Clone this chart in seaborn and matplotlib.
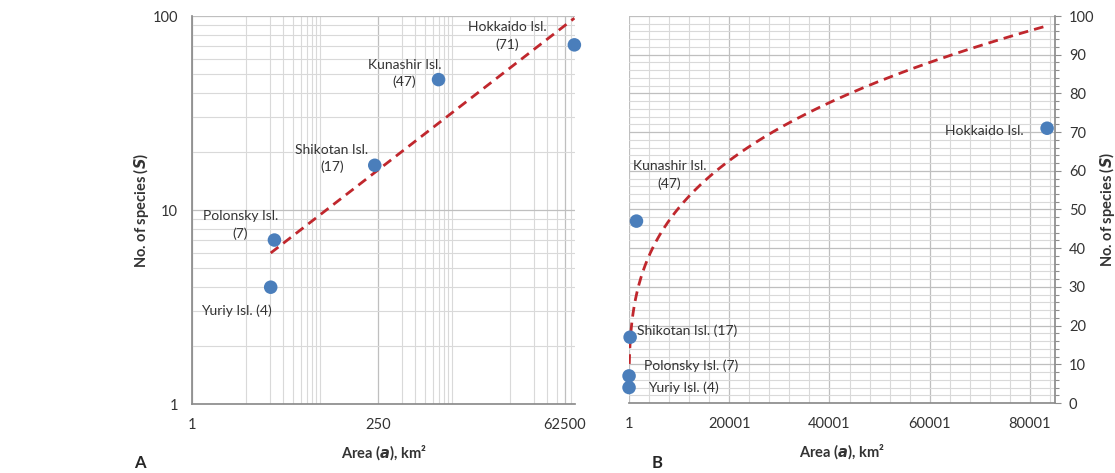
import numpy as np
import pandas as pd
import matplotlib
matplotlib.use("Agg")
import matplotlib.pyplot as plt
import matplotlib.ticker as mticker
import seaborn as sns

# data
islands = ["Yuriy Isl.", "Polonsky Isl.", "Shikotan Isl.", "Kunashir Isl.", "Hokkaido Isl."]
area_km2 = [10.3, 11.5, 225, 1490, 83424]
species = [4, 7, 17, 47, 71]

sns.set_theme(style="whitegrid")
plt.rcParams.update({
    "font.family": ["Lato", "DejaVu Sans"],
    "font.size": 10,
    "axes.edgecolor": "#8c8c8c",
    "xtick.color": "#8c8c8c",
    "ytick.color": "#8c8c8c",
    "xtick.labelcolor": "#333333",
    "ytick.labelcolor": "#333333",
})

df = pd.DataFrame({"island": islands, "area": area_km2, "S": species})

# power-law trendline S = c * a^z (as Excel's power fit)
z, logc = np.polyfit(np.log(df["area"]), np.log(df["S"]), 1)
fit = pd.DataFrame({"area": np.geomspace(df["area"].min(), df["area"].max(), 400)})
fit["S"] = np.exp(logc) * fit["area"] ** z

W, H = 1115, 473
fig = plt.figure(figsize=(W / 100, H / 100), dpi=100)
axA = fig.add_axes([192 / W, 69 / H, 383 / W, 388 / H])
axB = fig.add_axes([629 / W, 70 / H, 426 / W, 387 / H])

blue = "#4a7ebb"
red = "#c0272d"
major_grid = dict(color="#bfbfbf", linewidth=0.9)
minor_grid = dict(color="#d9d9d9", linewidth=0.8)
label_kw = dict(fontsize=10, color="#333333")
axis_label_kw = dict(fontsize=10.5, fontweight="bold", color="#333333")


def draw(ax):
    sns.lineplot(data=fit, x="area", y="S", ax=ax, color=red, linewidth=2.0,
                 linestyle=(0, (3.5, 2.2)), zorder=3)
    sns.scatterplot(data=df, x="area", y="S", ax=ax, color=blue, s=95,
                    edgecolor="none", zorder=4, clip_on=False)


# ---- panel A: log-log ----
draw(axA)
axA.set_xscale("log", base=250)
axA.set_yscale("log")
axA.set_xlim(1, 85000)
axA.set_ylim(1, 100)
axA.xaxis.set_major_locator(mticker.FixedLocator([1, 250, 62500]))
axA.xaxis.set_minor_locator(mticker.FixedLocator(
    [5 * k for k in range(1, 10)] + [250 * k for k in range(2, 10)] + [12500 * k for k in range(1, 7)]))
axA.yaxis.set_major_locator(mticker.FixedLocator([1, 10, 100]))
axA.yaxis.set_minor_locator(mticker.LogLocator(base=10, subs=np.arange(2, 10)))
fmt = mticker.FuncFormatter(lambda v, p: f"{v:g}")
axA.xaxis.set_major_formatter(fmt)
axA.yaxis.set_major_formatter(fmt)
axA.xaxis.set_minor_formatter(mticker.NullFormatter())
axA.yaxis.set_minor_formatter(mticker.NullFormatter())
axA.grid(True, which="major", **major_grid)
axA.grid(True, which="minor", **minor_grid)
for s in ["top", "right"]:
    axA.spines[s].set_visible(False)
axA.tick_params(which="both", direction="out", length=4, width=0.8, labelsize=10.5, pad=6)
axA.tick_params(which="minor", length=3)

offA = {
    "Hokkaido Isl.": ("Hokkaido Isl.\n(71)", -67, 9, "center"),
    "Kunashir Isl.": ("Kunashir Isl.\n(47)", -34, 6, "center"),
    "Shikotan Isl.": ("Shikotan Isl.\n(17)", -43, 7, "center"),
    "Polonsky Isl.": ("Polonsky Isl.\n(7)", -34, 15, "center"),
    "Yuriy Isl.": ("Yuriy Isl. (4)", -34, -24, "center"),
}
for _, r in df.iterrows():
    txt, dx, dy, ha = offA[r["island"]]
    axA.annotate(txt, (r["area"], r["S"]), xytext=(dx, dy), textcoords="offset pixels",
                 ha=ha, va="center", multialignment="center", linespacing=1.45, **label_kw)

axA.set_xlabel("Area ($\\mathbfit{a}$), km²", labelpad=8, **axis_label_kw)
axA.set_ylabel("No. of species ($\\mathbfit{S}$)", labelpad=1, **axis_label_kw)

# ---- panel B: linear ----
draw(axB)
axB.set_xlim(1, 85001)
axB.set_ylim(0, 100)
axB.xaxis.set_major_locator(mticker.FixedLocator([1, 20001, 40001, 60001, 80001]))
axB.xaxis.set_minor_locator(mticker.FixedLocator(np.arange(1, 85001, 4000)))
axB.yaxis.set_major_locator(mticker.MultipleLocator(10))
axB.yaxis.set_minor_locator(mticker.MultipleLocator(2))
axB.xaxis.set_major_formatter(fmt)
axB.grid(True, which="major", **major_grid)
axB.grid(True, which="minor", **minor_grid)
axB.yaxis.tick_right()
axB.yaxis.set_label_position("right")
for s in ["top", "left"]:
    axB.spines[s].set_visible(False)
axB.spines["right"].set_visible(True)
axB.tick_params(which="both", direction="out", length=4, width=0.8, labelsize=10.5, pad=6)
axB.tick_params(which="minor", length=3)

offB = {
    "Hokkaido Isl.": ("Hokkaido Isl.", -23, -3, "right"),
    "Kunashir Isl.": ("Kunashir Isl.\n(47)", 33, 46, "center"),
    "Shikotan Isl.": ("Shikotan Isl. (17)", 7, 6, "left"),
    "Polonsky Isl.": ("Polonsky Isl. (7)", 15, 10, "left"),
    "Yuriy Isl.": ("Yuriy Isl. (4)", 19, 0, "left"),
}
for _, r in df.iterrows():
    txt, dx, dy, ha = offB[r["island"]]
    axB.annotate(txt, (r["area"], r["S"]), xytext=(dx, dy), textcoords="offset pixels",
                 ha=ha, va="center", multialignment="center", linespacing=1.45, **label_kw)

axB.set_xlabel("Area ($\\mathbfit{a}$), km²", labelpad=8, **axis_label_kw)
axB.set_ylabel("No. of species ($\\mathbfit{S}$)", labelpad=2, rotation=90, **axis_label_kw)

fig.text(140 / W, 1 - 463 / H, "A", fontsize=12, fontweight="bold", ha="center", va="center")
fig.text(657 / W, 1 - 463 / H, "B", fontsize=12, fontweight="bold", ha="center", va="center")

fig.savefig("out.png", dpi=100)
